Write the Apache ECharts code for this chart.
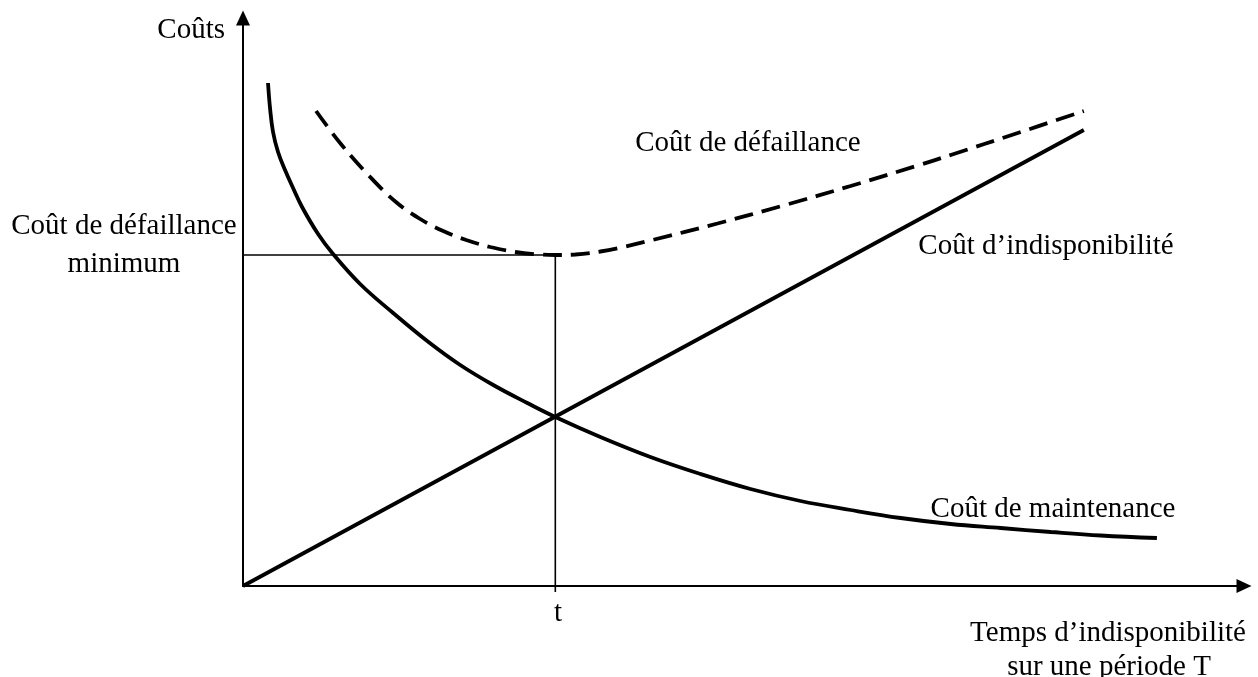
<!DOCTYPE html>
<html>
<head>
<meta charset="utf-8">
<script src="https://cdn.jsdelivr.net/npm/echarts@6/dist/echarts.min.js"></script>
<style>
  html, body { margin: 0; padding: 0; background: #fff; }
  #chart { width: 1258px; height: 677px; }
</style>
</head>
<body>
<div id="chart"></div>
<script>
const coutMaintenance = [
  [25, 503], [27, 478], [30, 454], [35, 434], [42, 416], [50, 398],
  [59, 379], [75, 352], [90, 332], [117, 302], [150, 273], [184, 245],
  [217, 221], [250, 201], [284, 183], [312, 169], [357, 149], [407, 129],
  [457, 112], [507, 97], [557, 85], [607, 76], [657, 68], [707, 62],
  [757, 58], [807, 54], [857, 50.5], [913, 48]
];
const coutIndisponibilite = [[0, 0], [840, 456]];
const coutDefaillance = [
  [73, 475], [97, 443], [127, 409], [154, 383], [177, 367], [200, 355],
  [223, 346], [247, 339], [272, 334], [297, 331.5], [312, 331], [332, 331.5],
  [357, 334.5], [382, 339.5], [407, 345.5], [474, 362.5], [540, 380.5],
  [607, 400], [674, 420.5], [707, 431], [774, 453], [840, 475]
];
// optimum : temps t et coût de défaillance minimum
const tOptimum = 312;
const coutMinimum = 331;

const FONT = "'Liberation Serif', 'Times New Roman', serif";

const chart = echarts.init(document.getElementById("chart"));

// y = haut de la ligne de texte
function texte(str, x, y, align) {
  return {
    type: "text",
    x: x,
    y: y,
    style: {
      text: str,
      fill: "#000",
      font: "29px " + FONT,
      align: align || "center",
      verticalAlign: "top"
    }
  };
}

const option = {
  animation: false,
  backgroundColor: "#fff",
  grid: { left: 243, right: 14, top: 18, bottom: 91 },
  xAxis: {
    type: "value",
    min: 0,
    max: 1000,
    axisLine: {
      show: true,
      symbol: ["none", "triangle"],
      symbolSize: [14, 15],
      lineStyle: { color: "#000", width: 2 }
    },
    axisTick: { show: false },
    axisLabel: { show: false },
    splitLine: { show: false }
  },
  yAxis: {
    type: "value",
    min: 0,
    max: 568,
    axisLine: {
      show: true,
      symbol: ["none", "triangle"],
      symbolSize: [14, 15],
      lineStyle: { color: "#000", width: 2 }
    },
    axisTick: { show: false },
    axisLabel: { show: false },
    splitLine: { show: false }
  },
  series: [
    {
      // repère horizontal du coût minimum
      type: "line",
      data: [[-24, coutMinimum], [tOptimum, coutMinimum]],
      showSymbol: false,
      clip: false,
      lineStyle: { color: "#000", width: 1.6 },
      z: 1
    },
    {
      // repère vertical en t
      type: "line",
      data: [[tOptimum, -6], [tOptimum, coutMinimum]],
      showSymbol: false,
      clip: false,
      lineStyle: { color: "#000", width: 1.6 },
      z: 1
    },
    {
      name: "Coût de maintenance",
      type: "line",
      data: coutMaintenance,
      smooth: 0.4,
      showSymbol: false,
      lineStyle: { color: "#000", width: 3.8 },
      z: 3
    },
    {
      name: "Coût d’indisponibilité",
      type: "line",
      data: coutIndisponibilite,
      showSymbol: false,
      lineStyle: { color: "#000", width: 3.8 },
      z: 3
    },
    {
      name: "Coût de défaillance",
      type: "line",
      data: coutDefaillance,
      smooth: 0.4,
      showSymbol: false,
      lineStyle: { color: "#000", width: 3.8, type: [19, 9] },
      z: 3
    }
  ],
  graphic: [
    texte("Coûts", 225, 16, "right"),
    texte("Coût de défaillance", 124, 212),
    texte("minimum", 124, 250),
    texte("Coût de défaillance", 748, 129),
    texte("Coût d’indisponibilité", 1046, 232),
    texte("Coût de maintenance", 1053, 495),
    texte("t", 558, 599),
    texte("Temps d’indisponibilité", 1108, 619),
    texte("sur une période T", 1109, 653)
  ]
};

chart.setOption(option);
</script>
</body>
</html>
